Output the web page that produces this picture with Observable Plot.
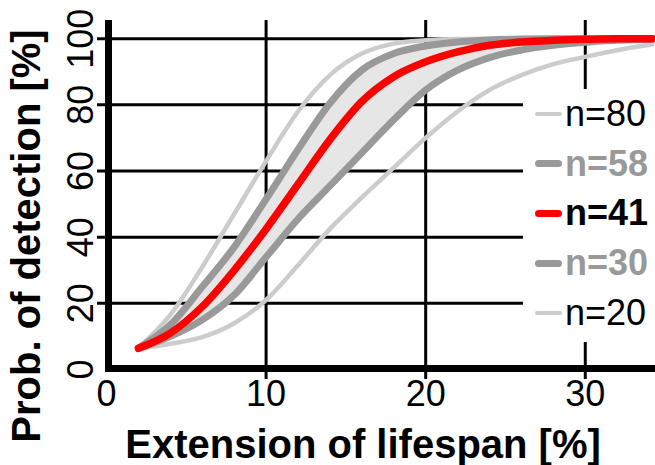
<!DOCTYPE html>
<html>
<head>
<meta charset="utf-8">
<script src="https://cdn.jsdelivr.net/npm/d3@7"></script>
<script src="https://cdn.jsdelivr.net/npm/@observablehq/plot@0.6"></script>
<style>
  body { margin: 0; background: #fff; }
  #wrap { position: relative; width: 655px; height: 465px; font-family: "Liberation Sans", Arial, sans-serif; }
  #legend { position: absolute; left: 523px; top: 89px; width: 132px; height: 253px; background: #fff; }
  .item { position: absolute; left: 12px; height: 50px; display: flex; align-items: center; }
  .sw { width: 27px; border-radius: 4px; margin-right: 3px; }
  .lab { font-size: 36px; line-height: 1; }
</style>
</head>
<body>
<div id="wrap"></div>
<script>
// ---- data ----
const xValues = [2, 4, 6, 8, 10, 12, 14, 16, 18, 20, 22, 24, 26, 28, 30, 32, 34.2];
const n80 = [6.5, 16.5, 31, 47, 63, 78, 89, 95.5, 98.5, 99.5, 99.9, 100, 100, 100, 100, 100, 100];
const n58 = [6.5, 13.5, 25, 37, 51.5, 66.5, 80.5, 90.5, 95.5, 97.8, 99, 99.6, 99.9, 100, 100, 100, 100];
const n41 = [6.4, 11, 19, 30, 42.5, 56, 69.5, 81, 88.5, 93, 96, 98, 99, 99.5, 99.8, 100, 100];
const n30 = [6.3, 10, 15, 22.5, 34, 45.5, 55.5, 65.5, 75.5, 84.5, 90.5, 94.3, 96.6, 98, 98.9, 99.5, 99.8];
const n20 = [6.3, 7.8, 9.8, 14, 21, 31.5, 42.5, 52, 61, 70, 78, 84.5, 89, 92.3, 94.5, 96.5, 98.3];
const seriesNames = ["n=80", "n=58", "n=41", "n=30", "n=20"];
const xTicks = [0, 10, 20, 30];
const yTicks = [0, 20, 40, 60, 80, 100];
const xGrid = [10, 20, 30];
const yGrid = [20, 40, 60, 80, 100];
const xTitle = "Extension of lifespan [%]";
const yTitle = "Prob. of detection [%]";

// ---- styles ----
const LIGHT = "#cccccc", DARK = "#999999", RED = "#ff0000";
const seriesValues = {"n=80": n80, "n=58": n58, "n=41": n41, "n=30": n30, "n=20": n20};
const seriesStyle = {
  "n=80": {stroke: LIGHT, width: 4.5, text: "#000", weight: "normal"},
  "n=58": {stroke: DARK, width: 7, text: DARK, weight: "bold"},
  "n=41": {stroke: RED, width: 7.5, text: "#000", weight: "bold"},
  "n=30": {stroke: DARK, width: 7, text: DARK, weight: "bold"},
  "n=20": {stroke: LIGHT, width: 4.5, text: "#000", weight: "normal"}
};

const rows = seriesNames.flatMap(n => xValues.map((x, i) => ({n, x, y: seriesValues[n][i]})));
const band = xValues.map((x, i) => ({x, y1: n30[i], y2: n58[i]}));
const drawOrder = ["n=20", "n=80", "n=30", "n=58", "n=41"];

const plot = Plot.plot({
  width: 655,
  height: 465,
  marginLeft: 106,
  marginRight: 0,
  marginTop: 20,
  marginBottom: 96,
  x: {domain: [0, 34.4], axis: null},
  y: {domain: [0, 105.5], axis: null},
  style: {fontFamily: "'Liberation Sans', Arial, sans-serif", background: "#fff", overflow: "visible"},
  marks: [
    Plot.ruleY(yGrid, {stroke: "black", strokeWidth: 3, insetLeft: -9}),
    Plot.ruleX(xGrid, {stroke: "black", strokeWidth: 3, insetBottom: -10}),
    Plot.areaY(band, {x: "x", y1: "y1", y2: "y2", fill: "#e6e6e6", curve: "monotone-x"}),
    ...drawOrder.map(n => Plot.line(rows.filter(d => d.n === n), {
      x: "x", y: "y", stroke: seriesStyle[n].stroke, strokeWidth: seriesStyle[n].width,
      curve: "monotone-x", strokeLinecap: "round", strokeLinejoin: "round"
    })),
    Plot.ruleX([0], {stroke: "black", strokeWidth: 7, dx: 2, insetBottom: -3}),
    Plot.ruleY([0], {stroke: "black", strokeWidth: 7, dy: -1, insetLeft: -1}),
    Plot.text(yTicks, {y: d => d, text: d => String(d), frameAnchor: "left", dx: -14, rotate: -90,
      textAnchor: "middle", lineAnchor: "bottom", fontSize: 36, fill: "black"}),
    Plot.text(xTicks, {x: d => d, text: d => String(d), frameAnchor: "bottom", dy: 11,
      lineAnchor: "top", fontSize: 36, fill: "black"}),
    Plot.text([xTitle], {text: d => d, frameAnchor: "bottom", dx: -18, dy: 76, lineAnchor: "middle",
      fontSize: 40, fontWeight: "bold", fill: "black"}),
    Plot.text([yTitle], {text: d => d, frameAnchor: "left", dx: -79, dy: 41, rotate: -90,
      textAnchor: "middle", lineAnchor: "middle", fontSize: 40, fontWeight: "bold", fill: "black"})
  ]
});

const wrap = document.getElementById("wrap");
wrap.appendChild(plot);

// legend
const legend = document.createElement("div");
legend.id = "legend";
seriesNames.forEach((n, i) => {
  const st = seriesStyle[n];
  const item = document.createElement("div");
  item.className = "item";
  item.style.top = (i * 49.7) + "px";
  const sw = document.createElement("div");
  sw.className = "sw";
  sw.style.height = st.width + "px";
  sw.style.background = st.stroke;
  const lab = document.createElement("span");
  lab.className = "lab";
  lab.textContent = n;
  lab.style.color = st.text;
  lab.style.fontWeight = st.weight;
  item.appendChild(sw);
  item.appendChild(lab);
  legend.appendChild(item);
});
wrap.appendChild(legend);
</script>
</body>
</html>
